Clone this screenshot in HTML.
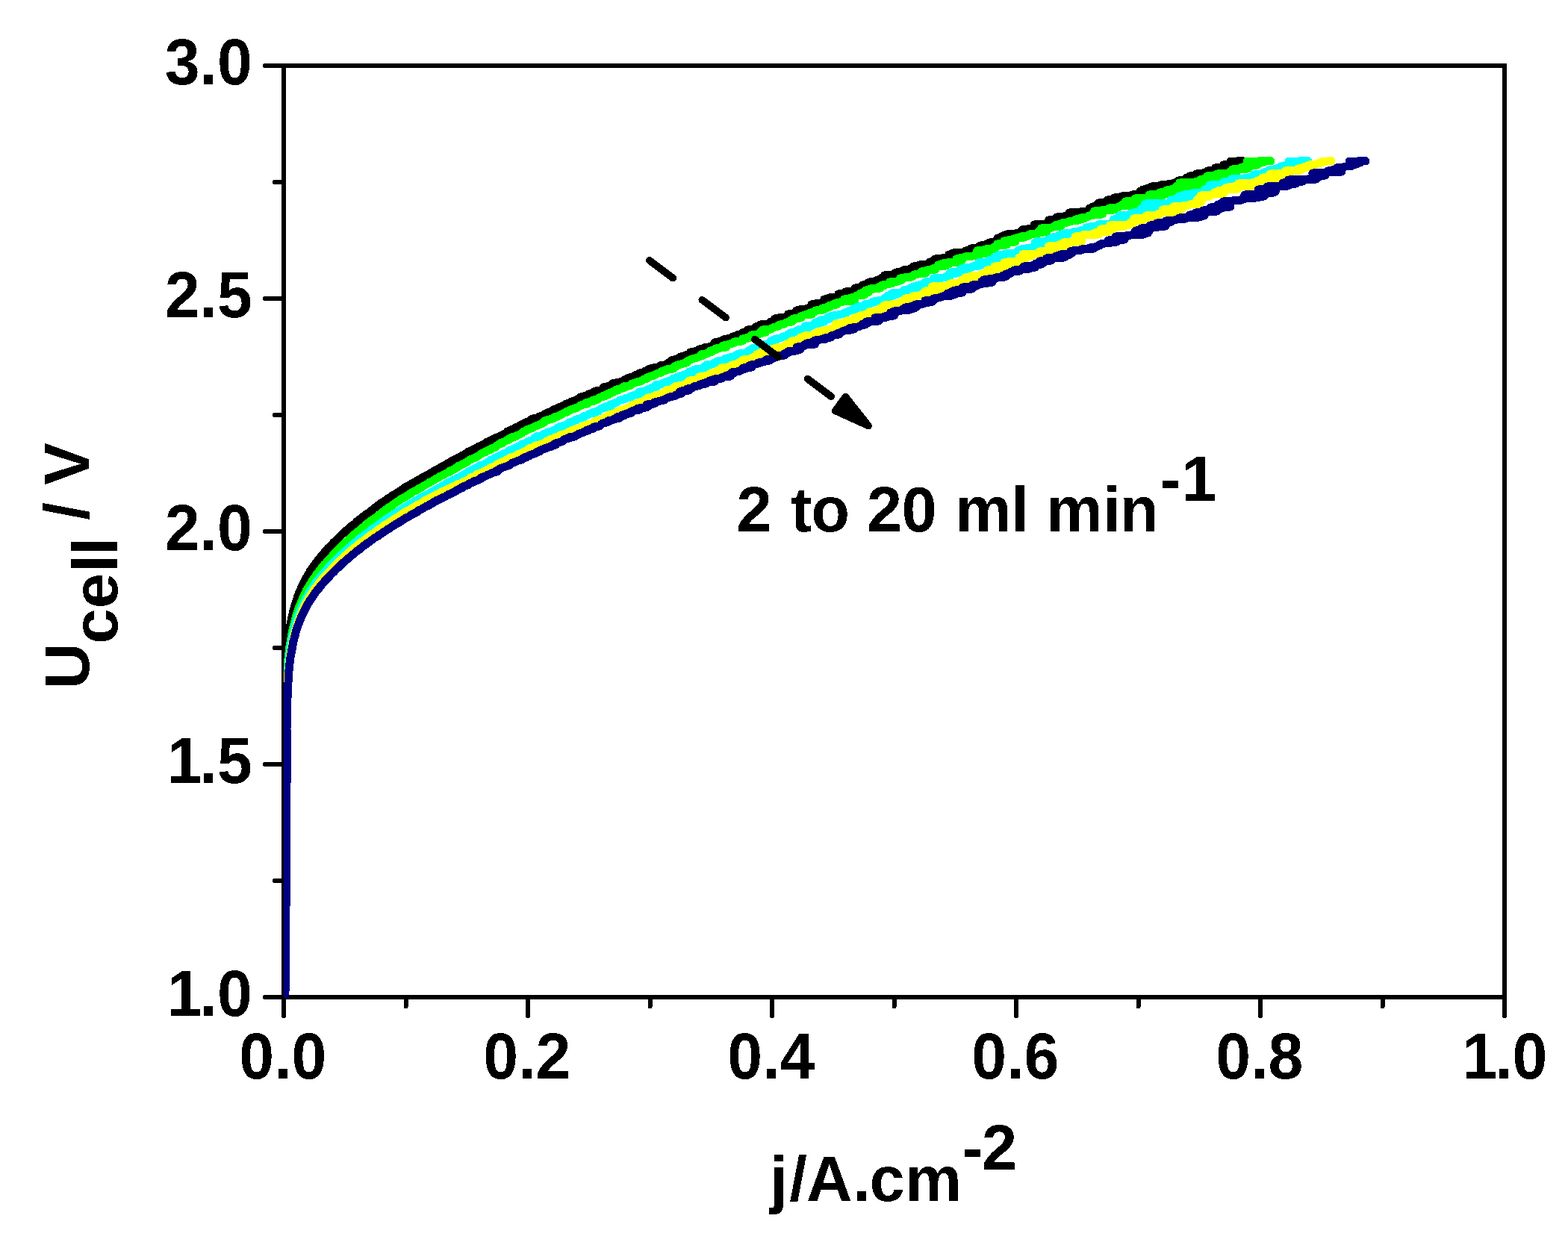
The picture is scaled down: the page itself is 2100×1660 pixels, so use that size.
<!DOCTYPE html>
<html lang="en"><head><meta charset="utf-8"><title>Polarisation curves, 2 to 20 ml min-1</title>
<style>html,body{margin:0;padding:0;background:#fff;}body{width:2100px;height:1660px;overflow:hidden;}svg{display:block;}text{font-family:"Liberation Sans",sans-serif;font-weight:bold;fill:#000;}</style></head><body>
<svg width="2100" height="1660" viewBox="0 0 2100 1660">
<defs>
<filter id="crisp" x="-5%" y="-5%" width="110%" height="110%" color-interpolation-filters="sRGB"><feComponentTransfer><feFuncA type="discrete" tableValues="0 1"/></feComponentTransfer></filter>
<clipPath id="plot"><rect x="380" y="68" width="1655" height="1269"/></clipPath>
</defs>
<rect width="2100" height="1660" fill="#ffffff"/>
<g id="axes" stroke="#000" stroke-width="6" fill="none" shape-rendering="crispEdges">
<rect x="380" y="88" width="1635" height="1248"/>
</g>
<g id="ticks" stroke="#000" stroke-width="6" stroke-linecap="round" fill="none" shape-rendering="crispEdges">
<line x1="355.0" y1="88.0" x2="380.0" y2="88.0"/>
<line x1="367.5" y1="244.0" x2="380.0" y2="244.0"/>
<line x1="355.0" y1="400.0" x2="380.0" y2="400.0"/>
<line x1="367.5" y1="556.0" x2="380.0" y2="556.0"/>
<line x1="355.0" y1="712.0" x2="380.0" y2="712.0"/>
<line x1="367.5" y1="868.0" x2="380.0" y2="868.0"/>
<line x1="355.0" y1="1024.0" x2="380.0" y2="1024.0"/>
<line x1="367.5" y1="1180.0" x2="380.0" y2="1180.0"/>
<line x1="355.0" y1="1336.0" x2="380.0" y2="1336.0"/>
<line x1="380.0" y1="1336.0" x2="380.0" y2="1361.0"/>
<line x1="543.5" y1="1336.0" x2="543.5" y2="1348.5"/>
<line x1="707.0" y1="1336.0" x2="707.0" y2="1361.0"/>
<line x1="870.5" y1="1336.0" x2="870.5" y2="1348.5"/>
<line x1="1034.0" y1="1336.0" x2="1034.0" y2="1361.0"/>
<line x1="1197.5" y1="1336.0" x2="1197.5" y2="1348.5"/>
<line x1="1361.0" y1="1336.0" x2="1361.0" y2="1361.0"/>
<line x1="1524.5" y1="1336.0" x2="1524.5" y2="1348.5"/>
<line x1="1688.0" y1="1336.0" x2="1688.0" y2="1361.0"/>
<line x1="1851.5" y1="1336.0" x2="1851.5" y2="1348.5"/>
<line x1="2015.0" y1="1336.0" x2="2015.0" y2="1361.0"/>
</g>
<g id="curves" clip-path="url(#plot)" fill="none" stroke-width="11.0" stroke-linecap="round" stroke-linejoin="round" shape-rendering="crispEdges">
<path stroke="#000000" d="M380.6 1340.0L380.6 1337.0L380.6 1334.0L380.6 1331.0L380.6 1328.0L380.7 1325.0L380.7 1322.0L380.7 1319.0L380.7 1316.0L380.7 1313.0L380.7 1310.0L380.7 1307.0L380.7 1304.0L380.8 1301.0L380.8 1298.0L380.8 1295.0L380.8 1292.0L380.8 1289.0L380.8 1286.0L380.8 1283.0L380.9 1280.0L380.9 1277.0L380.9 1274.0L380.9 1271.0L380.9 1268.0L380.9 1265.0L380.9 1262.0L381.0 1259.0L381.0 1256.0L381.0 1253.0L381.0 1250.0L381.0 1247.0L381.0 1244.0L381.0 1241.0L381.1 1238.0L381.1 1235.0L381.1 1232.0L381.1 1229.0L381.1 1226.0L381.1 1223.0L381.1 1220.0L381.2 1217.0L381.2 1214.0L381.2 1211.0L381.2 1208.0L381.2 1205.0L381.2 1202.0L381.2 1199.0L381.3 1196.0L381.3 1193.0L381.3 1190.0L381.3 1187.0L381.3 1184.0L381.3 1181.0L381.3 1178.0L381.3 1175.0L381.4 1172.0L381.4 1169.0L381.4 1166.0L381.4 1163.0L381.4 1160.0L381.4 1157.0L381.4 1154.0L381.4 1151.0L381.4 1148.0L381.5 1145.0L381.5 1142.0L381.5 1139.0L381.5 1136.0L381.5 1133.0L381.5 1130.0L381.5 1127.0L381.5 1124.0L381.5 1121.0L381.5 1118.0L381.6 1115.0L381.6 1112.0L381.6 1109.0L381.6 1106.0L381.6 1103.0L381.6 1100.0L381.6 1097.0L381.6 1094.0L381.6 1091.0L381.6 1088.0L381.6 1085.0L381.7 1082.0L381.7 1079.0L381.7 1076.0L381.7 1073.0L381.7 1070.0L381.7 1067.0L381.7 1064.0L381.7 1061.0L381.7 1058.0L381.7 1055.0L381.7 1052.0L381.7 1049.0L381.8 1046.0L381.8 1043.0L381.8 1040.0L381.8 1037.0L381.8 1034.0L381.8 1031.0L381.8 1028.0L381.8 1025.0L381.8 1022.0L381.8 1019.0L381.8 1016.0L381.8 1013.0L381.9 1010.0L381.9 1007.0L381.9 1004.0L381.9 1001.0L381.8 998.0L382.0 995.0L381.6 992.0L382.0 989.0L382.0 986.0L382.1 983.0L381.7 980.0L381.9 977.0L382.1 974.0L381.8 971.0L381.9 968.0L381.8 965.0L382.0 962.0L382.0 959.0L382.0 956.0L382.1 953.0L381.9 950.0L381.7 947.0L381.7 944.0L381.6 941.0L381.8 938.0L381.8 935.0L381.8 932.0L382.0 929.0L382.2 926.0L381.9 923.0L382.4 920.0L382.3 917.0L382.4 914.0L382.6 911.0L382.5 908.0L382.9 905.0L382.7 902.0L382.9 899.0L383.2 896.0L383.3 893.0L383.4 890.0L383.9 887.0L383.6 884.0L384.1 881.0L384.2 878.0L384.6 875.0L384.6 872.0L384.6 869.0L385.2 866.0L385.3 863.0L386.0 860.0L386.1 857.0L386.4 854.0L386.9 851.0L387.3 848.0L387.6 845.0L388.4 842.0L388.6 839.0L389.1 836.0L389.8 833.0L390.1 830.0L390.9 827.0L391.8 824.0L392.2 821.0L393.1 818.0L394.1 815.0L394.7 812.0L395.6 809.0L396.6 806.0L397.7 803.0L398.3 800.0L399.9 797.0L400.7 794.0L401.2 793.0L401.6 792.0L402.1 791.0L402.5 790.0L403.2 789.0L403.1 788.0L404.0 787.0L404.4 786.0L404.7 785.0L404.9 784.0L405.7 783.0L406.2 782.0L406.7 781.0L407.3 780.0L407.9 779.0L408.3 778.0L408.6 777.0L409.5 776.0L409.7 775.0L410.5 774.0L411.1 773.0L411.5 772.0L412.2 771.0L412.5 770.0L413.1 769.0L414.0 768.0L414.6 767.0L415.0 766.0L415.2 765.0L416.4 764.0L417.0 763.0L417.7 762.0L418.5 761.0L419.3 760.0L419.8 759.0L420.2 758.0L421.3 757.0L421.9 756.0L422.7 755.0L423.3 754.0L424.3 753.0L424.9 752.0L425.6 751.0L426.5 750.0L427.4 749.0L428.1 748.0L429.2 747.0L430.0 746.0L430.4 745.0L431.0 744.0L432.7 743.0L433.4 742.0L433.9 741.0L434.6 740.0L435.7 739.0L436.6 738.0L437.5 737.0L438.2 736.0L439.4 735.0L439.6 734.0L441.4 733.0L442.2 732.0L443.4 731.0L444.3 730.0L444.8 729.0L445.9 728.0L446.7 727.0L447.8 726.0L448.9 725.0L450.2 724.0L451.0 723.0L452.3 722.0L453.2 721.0L454.3 720.0L455.2 719.0L455.8 718.0L457.0 717.0L458.0 716.0L459.1 715.0L460.4 714.0L461.8 713.0L462.7 712.0L463.8 711.0L464.7 710.0L466.2 709.0L467.4 708.0L468.7 707.0L469.8 706.0L470.3 705.0L471.8 704.0L473.4 703.0L474.9 702.0L476.1 701.0L476.9 700.0L477.5 699.0L479.2 698.0L481.1 697.0L481.3 696.0L482.9 695.0L484.3 694.0L485.8 693.0L486.5 692.0L488.0 691.0L489.8 690.0L490.7 689.0L491.8 688.0L494.0 687.0L495.0 686.0L496.6 685.0L497.4 684.0L498.9 683.0L500.0 682.0L501.1 681.0L502.3 680.0L504.6 679.0L505.4 678.0L506.3 677.0L508.6 676.0L510.1 675.0L510.5 674.0L512.6 673.0L514.5 672.0L515.4 671.0L517.0 670.0L518.2 669.0L520.1 668.0L520.6 667.0L523.2 666.0L524.3 665.0L525.6 664.0L527.1 663.0L529.4 662.0L530.9 661.0L532.4 660.0L533.9 659.0L535.3 658.0L537.1 657.0L538.3 656.0L539.9 655.0L541.9 654.0L542.6 653.0L544.0 652.0L546.0 651.0L547.9 650.0L550.1 649.0L552.7 648.0L552.8 647.0L555.9 646.0L557.3 645.0L558.2 644.0L560.1 643.0L562.9 642.0L563.7 641.0L565.1 640.0L567.2 639.0L569.4 638.0L571.0 637.0L573.9 636.0L574.9 635.0L575.9 634.0L578.4 633.0L580.7 632.0L581.4 631.0L583.9 630.0L585.5 629.0L587.8 628.0L589.5 627.0L590.0 626.0L593.2 625.0L594.6 624.0L596.6 623.0L599.0 622.0L599.3 621.0L602.5 620.0L602.8 619.0L604.8 618.0L606.2 617.0L608.4 616.0L610.3 615.0L612.1 614.0L615.6 613.0L616.4 612.0L618.8 611.0L619.2 610.0L623.3 609.0L623.1 608.0L625.4 607.0L627.8 606.0L627.7 605.0L630.7 604.0L632.9 603.0L634.3 602.0L637.1 601.0L638.9 600.0L639.7 599.0L641.6 598.0L645.5 597.0L646.0 596.0L648.3 595.0L651.6 594.0L652.9 593.0L652.4 592.0L656.2 591.0L656.9 590.0L659.1 589.0L662.2 588.0L663.2 587.0L666.6 586.0L668.5 585.0L671.1 584.0L672.2 583.0L674.6 582.0L675.9 581.0L678.0 580.0L678.9 579.0L679.5 578.0L682.3 577.0L684.6 576.0L686.6 575.0L689.3 574.0L690.0 573.0L692.0 572.0L697.8 571.0L696.5 570.0L698.1 569.0L701.1 568.0L703.6 567.0L703.8 566.0L708.7 565.0L709.8 564.0L711.5 563.0L711.3 562.0L713.4 561.0L719.2 560.0L721.4 559.0L722.4 558.0L726.3 557.0L728.9 556.0L729.7 555.0L730.7 554.0L733.6 553.0L735.9 552.0L738.0 551.0L741.9 550.0L740.9 549.0L746.8 548.0L746.1 547.0L747.7 546.0L751.6 545.0L754.0 544.0L756.2 543.0L756.7 542.0L758.5 541.0L761.3 540.0L766.2 539.0L765.3 538.0L771.2 537.0L770.8 536.0L775.1 535.0L774.7 534.0L778.9 533.0L777.6 532.0L781.3 531.0L786.8 530.0L787.1 529.0L788.4 528.0L793.9 527.0L795.5 526.0L795.4 525.0L797.5 524.0L804.5 523.0L805.8 522.0L807.3 521.0L808.3 520.0L808.0 519.0L813.2 518.0L817.2 517.0L821.0 516.0L820.6 515.0L820.0 514.0L824.9 513.0L830.0 512.0L834.3 511.0L835.8 510.0L836.1 509.0L838.6 508.0L840.5 507.0L842.9 506.0L849.3 505.0L851.9 504.0L850.3 503.0L852.8 502.0L859.4 501.0L856.1 500.0L864.5 499.0L863.3 498.0L864.5 497.0L871.9 496.0L868.0 495.0L870.4 494.0L874.7 493.0L881.6 492.0L882.8 491.0L884.0 490.0L890.2 489.0L892.8 488.0L893.9 487.0L895.3 486.0L899.1 485.0L898.0 484.0L899.2 483.0L902.1 482.0L907.4 481.0L908.5 480.0L915.7 479.0L911.2 478.0L919.0 477.0L918.5 476.0L920.9 475.0L926.2 474.0L925.4 473.0L924.4 472.0L929.6 471.0L932.2 470.0L936.3 469.0L935.9 468.0L943.5 467.0L942.6 466.0L949.3 465.0L951.9 464.0L956.8 463.0L956.3 462.0L957.8 461.0L958.7 460.0L956.9 459.0L961.5 458.0L964.8 457.0L971.2 456.0L968.9 455.0L974.2 454.0L978.0 453.0L981.8 452.0L981.4 451.0L987.7 450.0L987.0 449.0L993.0 448.0L995.5 447.0L994.3 446.0L997.8 445.0L1004.9 444.0L1005.6 443.0L1001.4 442.0L1007.1 441.0L1012.3 440.0L1017.8 439.0L1012.0 438.0L1016.1 437.0L1018.1 436.0L1018.0 435.0L1027.2 434.0L1033.2 433.0L1032.5 432.0L1032.6 431.0L1035.3 430.0L1040.0 429.0L1043.6 428.0L1037.8 427.0L1042.8 426.0L1050.9 425.0L1054.0 424.0L1056.1 423.0L1058.0 422.0L1055.5 421.0L1068.0 420.0L1067.5 419.0L1070.9 418.0L1070.7 417.0L1066.5 416.0L1070.0 415.0L1083.3 414.0L1081.4 413.0L1088.1 412.0L1086.3 411.0L1088.6 410.0L1097.4 409.0L1086.8 408.0L1091.5 407.0L1101.1 406.0L1104.4 405.0L1109.1 404.0L1103.5 403.0L1115.7 402.0L1103.9 401.0L1120.6 400.0L1109.9 399.0L1120.1 398.0L1128.6 397.0L1127.1 396.0L1128.9 395.0L1122.8 394.0L1130.8 393.0L1136.7 392.0L1132.3 391.0L1146.1 390.0L1143.6 389.0L1148.3 388.0L1148.8 387.0L1145.1 386.0L1155.9 385.0L1154.6 384.0L1160.3 383.0L1155.2 382.0L1161.0 381.0L1161.4 380.0L1161.8 379.0L1164.4 378.0L1172.8 377.0L1173.3 376.0L1175.4 375.0L1186.9 374.0L1180.7 373.0L1181.1 372.0L1191.1 371.0L1196.8 370.0L1184.7 369.0L1198.9 368.0L1203.7 367.0L1198.1 366.0L1200.3 365.0L1210.6 364.0L1220.3 363.0L1209.8 362.0L1216.4 361.0L1221.0 360.0L1220.9 359.0L1226.7 358.0L1223.1 357.0L1230.8 356.0L1231.4 355.0L1242.3 354.0L1246.5 353.0L1252.1 352.0L1245.4 351.0L1248.6 350.0L1257.4 349.0L1259.4 348.0L1252.0 347.0L1261.2 346.0L1269.9 345.0L1272.1 344.0L1271.9 343.0L1273.1 342.0L1270.8 341.0L1290.9 340.0L1276.6 339.0L1293.3 338.0L1298.8 337.0L1293.4 336.0L1301.1 335.0L1313.0 334.0L1300.1 333.0L1315.2 332.0L1325.5 331.0L1311.0 330.0L1313.6 329.0L1318.2 328.0L1330.2 327.0L1323.4 326.0L1325.7 325.0L1329.9 324.0L1342.0 323.0L1338.3 322.0L1346.3 321.0L1341.7 320.0L1336.0 319.0L1348.2 318.0L1348.1 317.0L1342.8 316.0L1351.9 315.0L1348.4 314.0L1359.2 313.0L1366.3 312.0L1365.9 311.0L1376.7 310.0L1377.5 309.0L1368.9 308.0L1375.6 307.0L1384.2 306.0L1393.1 305.0L1389.9 304.0L1391.7 303.0L1405.5 302.0L1385.3 301.0L1404.2 300.0L1408.7 299.0L1410.5 298.0L1411.3 297.0L1421.2 296.0L1404.7 295.0L1417.2 294.0L1426.7 293.0L1426.3 292.0L1415.4 291.0L1433.3 290.0L1427.1 289.0L1436.2 288.0L1444.3 287.0L1444.1 286.0L1432.3 285.0L1446.8 284.0L1462.6 283.0L1463.0 282.0L1460.5 281.0L1465.5 280.0L1459.1 279.0L1476.6 278.0L1463.2 277.0L1474.1 276.0L1468.2 275.0L1478.6 274.0L1480.0 273.0L1471.1 272.0L1488.2 271.0L1483.7 270.0L1495.2 269.0L1483.1 268.0L1488.0 267.0L1505.2 266.0L1492.6 265.0L1511.6 264.0L1502.5 263.0L1530.7 262.0L1516.7 261.0L1537.1 260.0L1534.7 259.0L1531.1 258.0L1538.7 257.0L1527.2 256.0L1534.0 255.0L1530.8 254.0L1543.8 253.0L1537.7 252.0L1558.1 251.0L1542.1 250.0L1570.6 249.0L1554.4 248.0L1563.2 247.0L1570.3 246.0L1572.9 245.0L1578.1 244.0L1590.9 243.0L1578.6 242.0L1591.6 241.0L1596.1 240.0L1597.2 239.0L1589.3 238.0L1602.6 237.0L1593.5 236.0L1606.4 235.0L1622.9 234.0L1602.2 233.0L1610.7 232.0L1618.2 231.0L1622.3 230.0L1617.1 229.0L1632.1 228.0L1630.3 227.0L1632.6 226.0L1627.5 225.0L1636.1 224.0L1639.7 223.0L1641.0 222.0L1638.5 221.0L1648.9 220.0L1650.2 219.0L1654.7 218.0L1657.4 217.0L1648.0 216.3L1664.0 215.7"/>
<path stroke="#00ff00" d="M380.8 1340.0L380.8 1337.0L380.8 1334.0L380.8 1331.0L380.8 1328.0L380.9 1325.0L380.9 1322.0L380.9 1319.0L380.9 1316.0L380.9 1313.0L381.0 1310.0L381.0 1307.0L381.0 1304.0L381.0 1301.0L381.0 1298.0L381.0 1295.0L381.1 1292.0L381.1 1289.0L381.1 1286.0L381.1 1283.0L381.1 1280.0L381.1 1277.0L381.2 1274.0L381.2 1271.0L381.2 1268.0L381.2 1265.0L381.2 1262.0L381.2 1259.0L381.3 1256.0L381.3 1253.0L381.3 1250.0L381.3 1247.0L381.3 1244.0L381.4 1241.0L381.4 1238.0L381.4 1235.0L381.4 1232.0L381.4 1229.0L381.4 1226.0L381.5 1223.0L381.5 1220.0L381.5 1217.0L381.5 1214.0L381.5 1211.0L381.5 1208.0L381.6 1205.0L381.6 1202.0L381.6 1199.0L381.6 1196.0L381.6 1193.0L381.6 1190.0L381.7 1187.0L381.7 1184.0L381.7 1181.0L381.7 1178.0L381.7 1175.0L381.8 1172.0L381.8 1169.0L381.8 1166.0L381.8 1163.0L381.8 1160.0L381.8 1157.0L381.8 1154.0L381.8 1151.0L381.9 1148.0L381.9 1145.0L381.9 1142.0L381.9 1139.0L381.9 1136.0L381.9 1133.0L381.9 1130.0L381.9 1127.0L381.9 1124.0L381.9 1121.0L381.9 1118.0L382.0 1115.0L382.0 1112.0L382.0 1109.0L382.0 1106.0L382.0 1103.0L382.0 1100.0L382.0 1097.0L382.0 1094.0L382.0 1091.0L382.1 1088.0L382.1 1085.0L382.1 1082.0L382.1 1079.0L382.1 1076.0L382.1 1073.0L382.1 1070.0L382.1 1067.0L382.2 1064.0L382.2 1061.0L382.2 1058.0L382.2 1055.0L382.2 1052.0L382.2 1049.0L382.2 1046.0L382.2 1043.0L382.3 1040.0L382.3 1037.0L382.3 1034.0L382.3 1031.0L382.3 1028.0L382.3 1025.0L382.3 1022.0L382.3 1019.0L382.4 1016.0L382.4 1013.0L382.4 1010.0L382.4 1007.0L382.4 1004.0L382.4 1001.0L382.4 998.0L382.5 995.0L382.7 992.0L382.6 989.0L382.3 986.0L382.3 983.0L382.4 980.0L382.4 977.0L382.7 974.0L382.6 971.0L382.8 968.0L382.5 965.0L382.6 962.0L382.8 959.0L382.8 956.0L382.7 953.0L382.5 950.0L382.5 947.0L382.5 944.0L382.5 941.0L382.6 938.0L382.7 935.0L382.9 932.0L382.8 929.0L383.3 926.0L383.0 923.0L383.3 920.0L383.3 917.0L383.5 914.0L383.9 911.0L384.0 908.0L384.2 905.0L384.6 902.0L384.6 899.0L384.9 896.0L385.1 893.0L385.2 890.0L385.7 887.0L385.9 884.0L386.1 881.0L386.5 878.0L387.0 875.0L387.1 872.0L387.7 869.0L387.9 866.0L388.6 863.0L389.0 860.0L389.4 857.0L390.1 854.0L390.5 851.0L391.3 848.0L391.8 845.0L392.4 842.0L393.1 839.0L393.9 836.0L394.7 833.0L395.3 830.0L396.2 827.0L397.1 824.0L398.1 821.0L399.0 818.0L400.0 815.0L400.3 814.0L400.8 813.0L401.0 812.0L401.6 811.0L402.2 810.0L402.5 809.0L402.9 808.0L403.3 807.0L403.5 806.0L404.1 805.0L404.6 804.0L404.8 803.0L405.6 802.0L405.7 801.0L406.1 800.0L406.7 799.0L407.5 798.0L407.6 797.0L408.4 796.0L408.8 795.0L409.3 794.0L410.0 793.0L410.5 792.0L410.4 791.0L411.6 790.0L412.3 789.0L412.3 788.0L413.2 787.0L413.6 786.0L414.2 785.0L414.8 784.0L415.2 783.0L416.3 782.0L416.9 781.0L417.2 780.0L417.6 779.0L418.3 778.0L419.4 777.0L419.7 776.0L420.5 775.0L421.3 774.0L421.9 773.0L422.6 772.0L423.4 771.0L423.7 770.0L424.7 769.0L425.3 768.0L426.4 767.0L427.1 766.0L427.5 765.0L428.3 764.0L429.5 763.0L430.2 762.0L430.8 761.0L431.1 760.0L432.4 759.0L433.0 758.0L434.0 757.0L434.7 756.0L436.1 755.0L436.8 754.0L437.7 753.0L438.6 752.0L439.0 751.0L440.2 750.0L440.8 749.0L442.3 748.0L443.2 747.0L443.8 746.0L445.2 745.0L445.5 744.0L446.4 743.0L447.5 742.0L448.7 741.0L449.6 740.0L450.3 739.0L451.5 738.0L452.3 737.0L453.4 736.0L454.0 735.0L455.7 734.0L456.5 733.0L457.4 732.0L458.1 731.0L459.0 730.0L460.4 729.0L462.0 728.0L462.4 727.0L463.7 726.0L465.0 725.0L466.0 724.0L467.4 723.0L468.5 722.0L469.2 721.0L470.2 720.0L471.3 719.0L472.7 718.0L473.3 717.0L474.6 716.0L476.1 715.0L477.2 714.0L478.6 713.0L479.4 712.0L481.3 711.0L482.2 710.0L483.0 709.0L483.9 708.0L485.6 707.0L487.0 706.0L488.5 705.0L489.9 704.0L491.0 703.0L491.6 702.0L492.6 701.0L494.1 700.0L495.8 699.0L496.4 698.0L498.3 697.0L499.3 696.0L501.1 695.0L502.3 694.0L503.9 693.0L505.1 692.0L506.3 691.0L508.2 690.0L508.9 689.0L510.0 688.0L511.0 687.0L512.3 686.0L514.0 685.0L515.3 684.0L516.3 683.0L517.9 682.0L520.0 681.0L520.5 680.0L522.5 679.0L524.0 678.0L526.1 677.0L526.1 676.0L528.5 675.0L528.8 674.0L531.1 673.0L532.6 672.0L535.0 671.0L535.7 670.0L536.5 669.0L538.7 668.0L540.6 667.0L542.5 666.0L543.8 665.0L545.6 664.0L547.3 663.0L548.2 662.0L550.9 661.0L551.5 660.0L552.8 659.0L555.5 658.0L558.2 657.0L558.7 656.0L560.7 655.0L562.1 654.0L564.8 653.0L565.9 652.0L567.3 651.0L568.9 650.0L571.1 649.0L572.9 648.0L574.8 647.0L575.7 646.0L578.0 645.0L580.2 644.0L581.6 643.0L582.9 642.0L584.7 641.0L587.2 640.0L589.1 639.0L589.4 638.0L592.6 637.0L594.4 636.0L596.2 635.0L597.8 634.0L600.5 633.0L602.5 632.0L602.5 631.0L605.0 630.0L608.1 629.0L609.8 628.0L610.0 627.0L612.6 626.0L613.9 625.0L614.4 624.0L618.2 623.0L619.7 622.0L620.9 621.0L624.4 620.0L625.5 619.0L626.2 618.0L628.3 617.0L629.5 616.0L631.7 615.0L634.4 614.0L636.4 613.0L638.6 612.0L640.2 611.0L641.9 610.0L642.9 609.0L645.2 608.0L645.6 607.0L649.7 606.0L649.7 605.0L652.2 604.0L654.8 603.0L658.0 602.0L657.6 601.0L660.9 600.0L664.1 599.0L663.7 598.0L665.3 597.0L667.4 596.0L667.7 595.0L672.8 594.0L671.6 593.0L675.2 592.0L676.8 591.0L678.5 590.0L681.9 589.0L681.1 588.0L685.2 587.0L685.0 586.0L691.0 585.0L691.3 584.0L694.3 583.0L695.9 582.0L698.5 581.0L698.7 580.0L700.1 579.0L701.6 578.0L704.9 577.0L705.2 576.0L708.1 575.0L711.5 574.0L713.4 573.0L715.0 572.0L717.4 571.0L720.0 570.0L721.8 569.0L725.2 568.0L726.0 567.0L728.5 566.0L729.7 565.0L728.7 564.0L732.2 563.0L736.1 562.0L740.1 561.0L742.4 560.0L741.8 559.0L747.2 558.0L747.6 557.0L750.9 556.0L752.7 555.0L753.9 554.0L756.0 553.0L760.3 552.0L759.5 551.0L762.4 550.0L765.3 549.0L766.6 548.0L771.9 547.0L772.6 546.0L775.2 545.0L776.7 544.0L777.2 543.0L781.5 542.0L786.8 541.0L783.8 540.0L788.4 539.0L790.8 538.0L796.1 537.0L794.1 536.0L801.3 535.0L801.8 534.0L802.4 533.0L804.3 532.0L809.4 531.0L808.0 530.0L814.7 529.0L813.2 528.0L814.9 527.0L821.0 526.0L820.0 525.0L822.8 524.0L827.5 523.0L825.4 522.0L830.1 521.0L834.1 520.0L837.0 519.0L834.8 518.0L842.5 517.0L844.8 516.0L846.3 515.0L846.2 514.0L850.5 513.0L852.1 512.0L857.7 511.0L859.5 510.0L860.8 509.0L862.3 508.0L867.0 507.0L866.2 506.0L870.2 505.0L871.2 504.0L876.0 503.0L877.7 502.0L879.0 501.0L881.2 500.0L886.1 499.0L885.3 498.0L888.1 497.0L893.1 496.0L892.1 495.0L901.8 494.0L902.9 493.0L902.2 492.0L905.9 491.0L904.7 490.0L908.0 489.0L912.3 488.0L914.3 487.0L919.9 486.0L920.6 485.0L920.1 484.0L923.2 483.0L924.6 482.0L926.9 481.0L930.6 480.0L934.3 479.0L935.8 478.0L938.8 477.0L941.9 476.0L938.8 475.0L947.1 474.0L946.7 473.0L951.4 472.0L953.7 471.0L951.1 470.0L957.3 469.0L960.0 468.0L958.3 467.0L965.5 466.0L973.0 465.0L972.5 464.0L968.4 463.0L974.4 462.0L977.0 461.0L980.9 460.0L983.6 459.0L983.4 458.0L994.3 457.0L995.3 456.0L994.8 455.0L994.6 454.0L1002.8 453.0L1001.5 452.0L1009.7 451.0L1008.4 450.0L1006.3 449.0L1014.0 448.0L1018.9 447.0L1017.1 446.0L1025.6 445.0L1019.3 444.0L1024.4 443.0L1021.5 442.0L1032.7 441.0L1033.4 440.0L1034.7 439.0L1038.7 438.0L1042.7 437.0L1041.8 436.0L1044.7 435.0L1050.7 434.0L1051.3 433.0L1053.3 432.0L1060.8 431.0L1061.7 430.0L1058.9 429.0L1062.3 428.0L1062.7 427.0L1071.8 426.0L1073.5 425.0L1072.4 424.0L1074.8 423.0L1077.0 422.0L1087.6 421.0L1083.2 420.0L1085.7 419.0L1090.9 418.0L1090.8 417.0L1092.3 416.0L1103.3 415.0L1102.4 414.0L1101.3 413.0L1110.2 412.0L1112.1 411.0L1109.5 410.0L1112.0 409.0L1121.1 408.0L1116.8 407.0L1120.1 406.0L1124.5 405.0L1129.0 404.0L1144.8 403.0L1133.9 402.0L1130.5 401.0L1141.4 400.0L1139.2 399.0L1145.7 398.0L1145.6 397.0L1147.4 396.0L1157.8 395.0L1153.2 394.0L1152.4 393.0L1162.9 392.0L1163.6 391.0L1163.4 390.0L1159.0 389.0L1167.9 388.0L1165.1 387.0L1179.0 386.0L1175.9 385.0L1179.1 384.0L1183.4 383.0L1181.4 382.0L1187.1 381.0L1192.4 380.0L1195.8 379.0L1191.7 378.0L1203.1 377.0L1203.4 376.0L1208.1 375.0L1206.8 374.0L1205.6 373.0L1210.3 372.0L1221.3 371.0L1221.2 370.0L1223.8 369.0L1224.2 368.0L1230.9 367.0L1240.1 366.0L1234.8 365.0L1233.8 364.0L1242.1 363.0L1240.8 362.0L1252.9 361.0L1249.3 360.0L1251.4 359.0L1254.7 358.0L1256.1 357.0L1267.1 356.0L1256.6 355.0L1270.8 354.0L1262.2 353.0L1268.1 352.0L1282.8 351.0L1284.4 350.0L1287.2 349.0L1289.0 348.0L1280.8 347.0L1284.2 346.0L1290.9 345.0L1292.6 344.0L1302.3 343.0L1311.6 342.0L1310.6 341.0L1315.6 340.0L1325.0 339.0L1311.0 338.0L1310.4 337.0L1308.6 336.0L1317.0 335.0L1319.3 334.0L1332.6 333.0L1329.9 332.0L1331.2 331.0L1335.6 330.0L1337.6 329.0L1348.3 328.0L1335.6 327.0L1346.9 326.0L1349.9 325.0L1359.8 324.0L1344.6 323.0L1349.3 322.0L1355.2 321.0L1357.8 320.0L1360.0 319.0L1371.6 318.0L1367.2 317.0L1377.5 316.0L1379.5 315.0L1378.6 314.0L1386.5 313.0L1393.0 312.0L1397.9 311.0L1401.9 310.0L1392.2 309.0L1400.2 308.0L1398.4 307.0L1394.7 306.0L1409.1 305.0L1410.0 304.0L1420.9 303.0L1413.3 302.0L1416.9 301.0L1423.4 300.0L1421.8 299.0L1429.8 298.0L1430.7 297.0L1436.6 296.0L1445.1 295.0L1439.9 294.0L1452.2 293.0L1447.0 292.0L1454.5 291.0L1457.9 290.0L1458.4 289.0L1465.2 288.0L1476.3 287.0L1474.3 286.0L1468.9 285.0L1475.6 284.0L1465.6 283.0L1474.6 282.0L1492.3 281.0L1493.5 280.0L1485.3 279.0L1497.5 278.0L1498.3 277.0L1500.5 276.0L1522.8 275.0L1503.7 274.0L1517.4 273.0L1513.7 272.0L1523.5 271.0L1507.4 270.0L1526.2 269.0L1524.0 268.0L1525.4 267.0L1520.3 266.0L1538.2 265.0L1555.4 264.0L1546.3 263.0L1550.7 262.0L1539.5 261.0L1561.9 260.0L1564.0 259.0L1553.3 258.0L1571.4 257.0L1568.1 256.0L1562.7 255.0L1568.9 254.0L1570.5 253.0L1594.8 252.0L1583.8 251.0L1588.8 250.0L1576.1 249.0L1605.6 248.0L1614.1 247.0L1601.4 246.0L1579.8 245.0L1599.5 244.0L1610.6 243.0L1617.2 242.0L1607.1 241.0L1610.3 240.0L1626.4 239.0L1636.2 238.0L1636.1 237.0L1616.6 236.0L1641.6 235.0L1643.4 234.0L1629.9 233.0L1644.9 232.0L1655.9 231.0L1647.3 230.0L1648.7 229.0L1653.9 228.0L1650.4 227.0L1671.4 226.0L1661.5 225.0L1663.3 224.0L1671.8 223.0L1677.8 222.0L1684.1 221.0L1682.5 220.0L1686.0 219.0L1689.7 218.0L1692.7 217.0L1670.0 216.3L1702.0 215.7"/>
<path stroke="#00ffff" d="M381.0 1340.0L381.0 1337.0L381.0 1334.0L381.0 1331.0L381.0 1328.0L381.1 1325.0L381.1 1322.0L381.1 1319.0L381.1 1316.0L381.1 1313.0L381.2 1310.0L381.2 1307.0L381.2 1304.0L381.2 1301.0L381.2 1298.0L381.2 1295.0L381.3 1292.0L381.3 1289.0L381.3 1286.0L381.3 1283.0L381.3 1280.0L381.3 1277.0L381.4 1274.0L381.4 1271.0L381.4 1268.0L381.4 1265.0L381.4 1262.0L381.4 1259.0L381.5 1256.0L381.5 1253.0L381.5 1250.0L381.5 1247.0L381.5 1244.0L381.6 1241.0L381.6 1238.0L381.6 1235.0L381.6 1232.0L381.6 1229.0L381.7 1226.0L381.7 1223.0L381.7 1220.0L381.7 1217.0L381.8 1214.0L381.8 1211.0L381.8 1208.0L381.8 1205.0L381.8 1202.0L381.9 1199.0L381.9 1196.0L381.9 1193.0L381.9 1190.0L381.9 1187.0L382.0 1184.0L382.0 1181.0L382.0 1178.0L382.0 1175.0L382.0 1172.0L382.1 1169.0L382.1 1166.0L382.1 1163.0L382.1 1160.0L382.1 1157.0L382.1 1154.0L382.2 1151.0L382.2 1148.0L382.2 1145.0L382.2 1142.0L382.2 1139.0L382.2 1136.0L382.2 1133.0L382.3 1130.0L382.3 1127.0L382.3 1124.0L382.3 1121.0L382.3 1118.0L382.3 1115.0L382.3 1112.0L382.4 1109.0L382.4 1106.0L382.4 1103.0L382.4 1100.0L382.4 1097.0L382.4 1094.0L382.4 1091.0L382.5 1088.0L382.5 1085.0L382.5 1082.0L382.5 1079.0L382.5 1076.0L382.5 1073.0L382.5 1070.0L382.5 1067.0L382.6 1064.0L382.6 1061.0L382.6 1058.0L382.6 1055.0L382.6 1052.0L382.6 1049.0L382.6 1046.0L382.6 1043.0L382.7 1040.0L382.7 1037.0L382.7 1034.0L382.7 1031.0L382.7 1028.0L382.7 1025.0L382.7 1022.0L382.7 1019.0L382.8 1016.0L382.8 1013.0L382.8 1010.0L382.8 1007.0L382.8 1004.0L382.8 1001.0L383.0 998.0L382.6 995.0L382.9 992.0L382.8 989.0L382.8 986.0L382.7 983.0L382.6 980.0L382.7 977.0L382.8 974.0L382.9 971.0L382.8 968.0L383.0 965.0L383.1 962.0L382.8 959.0L383.1 956.0L383.1 953.0L382.9 950.0L383.1 947.0L383.2 944.0L383.3 941.0L383.4 938.0L383.5 935.0L383.3 932.0L383.5 929.0L383.9 926.0L383.8 923.0L383.9 920.0L384.0 917.0L384.5 914.0L384.5 911.0L384.9 908.0L384.9 905.0L385.0 902.0L385.3 899.0L385.2 896.0L386.2 893.0L386.2 890.0L386.7 887.0L386.8 884.0L387.4 881.0L387.5 878.0L388.0 875.0L388.3 872.0L388.8 869.0L389.4 866.0L389.6 863.0L390.1 860.0L390.6 857.0L391.4 854.0L392.1 851.0L392.8 848.0L393.8 845.0L394.2 842.0L394.9 839.0L395.7 836.0L396.8 833.0L397.7 830.0L398.8 827.0L399.6 824.0L401.2 821.0L401.5 820.0L401.6 819.0L402.1 818.0L402.7 817.0L403.2 816.0L403.5 815.0L403.8 814.0L404.3 813.0L404.8 812.0L405.3 811.0L405.8 810.0L406.2 809.0L406.8 808.0L407.2 807.0L407.7 806.0L408.5 805.0L409.0 804.0L409.3 803.0L409.6 802.0L410.4 801.0L410.9 800.0L411.6 799.0L412.3 798.0L412.6 797.0L413.2 796.0L413.9 795.0L414.2 794.0L414.9 793.0L415.7 792.0L416.2 791.0L417.1 790.0L417.6 789.0L418.0 788.0L419.1 787.0L419.5 786.0L420.2 785.0L420.8 784.0L421.6 783.0L422.8 782.0L423.2 781.0L423.2 780.0L424.7 779.0L425.5 778.0L426.1 777.0L427.1 776.0L427.7 775.0L428.4 774.0L429.1 773.0L430.1 772.0L430.9 771.0L431.9 770.0L432.5 769.0L433.5 768.0L434.2 767.0L435.0 766.0L436.3 765.0L437.2 764.0L437.9 763.0L438.7 762.0L439.9 761.0L440.7 760.0L441.4 759.0L442.6 758.0L443.6 757.0L444.7 756.0L445.5 755.0L446.7 754.0L447.5 753.0L448.9 752.0L449.4 751.0L450.8 750.0L451.4 749.0L452.8 748.0L453.8 747.0L454.8 746.0L455.2 745.0L456.3 744.0L457.9 743.0L458.5 742.0L459.8 741.0L460.9 740.0L461.7 739.0L463.4 738.0L464.2 737.0L465.4 736.0L466.3 735.0L467.7 734.0L468.7 733.0L470.2 732.0L470.7 731.0L471.7 730.0L473.9 729.0L474.9 728.0L475.6 727.0L477.3 726.0L478.0 725.0L479.7 724.0L480.5 723.0L481.5 722.0L483.1 721.0L484.2 720.0L486.2 719.0L486.9 718.0L488.5 717.0L489.1 716.0L491.1 715.0L492.3 714.0L493.8 713.0L495.1 712.0L496.5 711.0L497.6 710.0L498.4 709.0L500.9 708.0L501.4 707.0L503.4 706.0L504.6 705.0L505.8 704.0L507.3 703.0L508.2 702.0L510.0 701.0L510.8 700.0L512.7 699.0L514.3 698.0L515.4 697.0L516.5 696.0L518.1 695.0L520.3 694.0L521.3 693.0L523.4 692.0L523.8 691.0L526.2 690.0L527.9 689.0L529.3 688.0L529.8 687.0L532.1 686.0L533.7 685.0L535.2 684.0L537.4 683.0L538.4 682.0L540.2 681.0L541.8 680.0L544.4 679.0L544.7 678.0L547.3 677.0L548.0 676.0L549.9 675.0L551.6 674.0L554.0 673.0L556.3 672.0L556.3 671.0L558.5 670.0L560.8 669.0L562.5 668.0L563.6 667.0L564.8 666.0L566.7 665.0L569.9 664.0L571.2 663.0L573.3 662.0L575.0 661.0L575.9 660.0L578.0 659.0L579.8 658.0L582.0 657.0L583.6 656.0L585.1 655.0L587.9 654.0L589.1 653.0L590.8 652.0L592.0 651.0L595.2 650.0L596.8 649.0L597.0 648.0L599.6 647.0L601.9 646.0L603.6 645.0L605.3 644.0L606.9 643.0L610.3 642.0L611.1 641.0L613.9 640.0L616.4 639.0L617.2 638.0L619.3 637.0L621.0 636.0L623.6 635.0L623.9 634.0L626.8 633.0L626.8 632.0L628.9 631.0L631.4 630.0L633.9 629.0L634.9 628.0L637.9 627.0L639.4 626.0L641.8 625.0L641.9 624.0L646.9 623.0L648.7 622.0L650.2 621.0L652.2 620.0L652.9 619.0L655.8 618.0L657.0 617.0L657.2 616.0L661.6 615.0L662.7 614.0L663.5 613.0L668.6 612.0L667.9 611.0L670.0 610.0L673.3 609.0L673.9 608.0L677.3 607.0L679.5 606.0L680.2 605.0L681.1 604.0L684.6 603.0L685.9 602.0L688.7 601.0L689.8 600.0L692.8 599.0L694.2 598.0L696.6 597.0L698.3 596.0L699.0 595.0L702.8 594.0L705.0 593.0L705.8 592.0L708.2 591.0L712.1 590.0L714.2 589.0L714.8 588.0L715.6 587.0L720.5 586.0L717.8 585.0L724.8 584.0L727.8 583.0L727.0 582.0L730.9 581.0L732.0 580.0L733.2 579.0L737.5 578.0L741.4 577.0L742.6 576.0L746.1 575.0L747.7 574.0L746.6 573.0L752.2 572.0L751.2 571.0L756.8 570.0L758.5 569.0L759.8 568.0L762.5 567.0L762.7 566.0L768.0 565.0L768.2 564.0L771.4 563.0L771.3 562.0L775.7 561.0L778.0 560.0L781.8 559.0L781.3 558.0L784.5 557.0L787.3 556.0L788.4 555.0L790.1 554.0L796.6 553.0L795.1 552.0L801.6 551.0L801.5 550.0L802.9 549.0L804.5 548.0L805.7 547.0L810.6 546.0L810.4 545.0L818.4 544.0L816.4 543.0L817.6 542.0L821.9 541.0L822.9 540.0L825.9 539.0L828.2 538.0L829.0 537.0L830.4 536.0L835.4 535.0L837.4 534.0L840.3 533.0L844.8 532.0L844.6 531.0L848.6 530.0L850.5 529.0L856.1 528.0L856.5 527.0L859.5 526.0L856.3 525.0L862.4 524.0L865.9 523.0L867.0 522.0L871.1 521.0L872.4 520.0L873.1 519.0L879.8 518.0L879.9 517.0L878.0 516.0L883.3 515.0L890.2 514.0L888.6 513.0L893.8 512.0L893.5 511.0L897.5 510.0L900.5 509.0L899.7 508.0L905.1 507.0L904.6 506.0L912.5 505.0L910.1 504.0L914.3 503.0L916.4 502.0L922.2 501.0L926.9 500.0L921.8 499.0L923.2 498.0L927.6 497.0L934.4 496.0L930.7 495.0L943.8 494.0L941.3 493.0L942.9 492.0L943.1 491.0L947.6 490.0L946.3 489.0L954.0 488.0L954.9 487.0L959.1 486.0L962.7 485.0L960.4 484.0L967.3 483.0L972.2 482.0L969.9 481.0L975.9 480.0L976.5 479.0L982.5 478.0L986.6 477.0L985.6 476.0L987.7 475.0L989.6 474.0L997.5 473.0L1000.5 472.0L1005.3 471.0L1002.3 470.0L1003.8 469.0L1009.2 468.0L1007.3 467.0L1010.3 466.0L1015.5 465.0L1016.0 464.0L1021.2 463.0L1021.8 462.0L1030.3 461.0L1033.0 460.0L1031.3 459.0L1032.7 458.0L1031.9 457.0L1039.2 456.0L1036.2 455.0L1039.7 454.0L1044.7 453.0L1047.0 452.0L1048.5 451.0L1054.2 450.0L1054.5 449.0L1054.9 448.0L1060.7 447.0L1058.4 446.0L1063.7 445.0L1064.9 444.0L1069.4 443.0L1068.8 442.0L1076.4 441.0L1080.2 440.0L1082.9 439.0L1078.6 438.0L1078.3 437.0L1088.4 436.0L1089.7 435.0L1089.9 434.0L1097.8 433.0L1092.2 432.0L1104.0 431.0L1099.3 430.0L1098.5 429.0L1108.7 428.0L1109.6 427.0L1112.9 426.0L1108.5 425.0L1112.1 424.0L1115.3 423.0L1121.7 422.0L1126.7 421.0L1132.9 420.0L1131.1 419.0L1133.8 418.0L1136.9 417.0L1138.2 416.0L1150.0 415.0L1144.4 414.0L1144.1 413.0L1158.3 412.0L1148.2 411.0L1153.9 410.0L1161.3 409.0L1157.9 408.0L1164.3 407.0L1166.5 406.0L1170.9 405.0L1169.4 404.0L1174.9 403.0L1186.1 402.0L1183.2 401.0L1185.6 400.0L1185.4 399.0L1191.1 398.0L1193.8 397.0L1189.2 396.0L1200.3 395.0L1199.3 394.0L1194.7 393.0L1209.2 392.0L1209.3 391.0L1219.3 390.0L1209.9 389.0L1214.7 388.0L1219.4 387.0L1231.2 386.0L1220.7 385.0L1224.2 384.0L1226.4 383.0L1231.6 382.0L1233.9 381.0L1238.7 380.0L1242.1 379.0L1239.5 378.0L1250.9 377.0L1249.0 376.0L1253.2 375.0L1253.4 374.0L1250.1 373.0L1263.1 372.0L1272.2 371.0L1271.6 370.0L1269.1 369.0L1270.4 368.0L1277.1 367.0L1281.9 366.0L1273.1 365.0L1288.2 364.0L1295.7 363.0L1286.8 362.0L1285.6 361.0L1297.2 360.0L1290.2 359.0L1301.9 358.0L1302.6 357.0L1311.5 356.0L1315.0 355.0L1315.3 354.0L1321.8 353.0L1310.7 352.0L1323.7 351.0L1325.3 350.0L1323.7 349.0L1330.8 348.0L1343.9 347.0L1341.4 346.0L1331.7 345.0L1336.1 344.0L1342.4 343.0L1336.8 342.0L1344.1 341.0L1347.7 340.0L1365.5 339.0L1365.6 338.0L1371.6 337.0L1362.9 336.0L1364.7 335.0L1367.4 334.0L1373.1 333.0L1380.0 332.0L1388.0 331.0L1390.9 330.0L1387.3 329.0L1392.9 328.0L1389.1 327.0L1403.8 326.0L1386.0 325.0L1388.6 324.0L1401.6 323.0L1418.4 322.0L1403.5 321.0L1418.4 320.0L1419.5 319.0L1409.5 318.0L1427.7 317.0L1418.2 316.0L1418.0 315.0L1429.5 314.0L1425.0 313.0L1436.9 312.0L1436.9 311.0L1446.3 310.0L1446.7 309.0L1459.1 308.0L1453.8 307.0L1458.5 306.0L1454.5 305.0L1459.8 304.0L1466.3 303.0L1475.2 302.0L1471.1 301.0L1488.0 300.0L1487.8 299.0L1493.8 298.0L1500.4 297.0L1495.5 296.0L1500.9 295.0L1491.0 294.0L1513.7 293.0L1510.2 292.0L1497.1 291.0L1508.3 290.0L1499.2 289.0L1524.2 288.0L1513.0 287.0L1514.4 286.0L1533.3 285.0L1521.3 284.0L1532.5 283.0L1540.2 282.0L1541.3 281.0L1550.2 280.0L1528.8 279.0L1558.6 278.0L1539.7 277.0L1554.4 276.0L1563.3 275.0L1567.8 274.0L1533.7 273.0L1573.9 272.0L1578.0 271.0L1572.3 270.0L1591.0 269.0L1568.3 268.0L1573.0 267.0L1575.2 266.0L1586.2 265.0L1593.1 264.0L1579.4 263.0L1592.8 262.0L1585.0 261.0L1596.3 260.0L1595.9 259.0L1615.7 258.0L1618.5 257.0L1618.2 256.0L1627.9 255.0L1613.4 254.0L1616.0 253.0L1625.6 252.0L1625.5 251.0L1640.8 250.0L1625.3 249.0L1620.1 248.0L1640.2 247.0L1639.1 246.0L1649.9 245.0L1638.6 244.0L1653.8 243.0L1670.2 242.0L1677.6 241.0L1649.1 240.0L1665.5 239.0L1671.4 238.0L1694.0 237.0L1677.5 236.0L1689.2 235.0L1679.0 234.0L1695.9 233.0L1709.3 232.0L1692.4 231.0L1728.7 230.0L1702.7 229.0L1699.2 228.0L1712.3 227.0L1708.1 226.0L1715.6 225.0L1716.3 224.0L1715.0 223.0L1727.9 222.0L1722.0 221.0L1730.8 220.0L1737.6 219.0L1739.1 218.0L1742.5 217.0L1726.0 216.3L1752.0 215.7"/>
<path stroke="#ffff00" d="M381.1 1340.0L381.1 1337.0L381.1 1334.0L381.1 1331.0L381.2 1328.0L381.2 1325.0L381.2 1322.0L381.2 1319.0L381.2 1316.0L381.3 1313.0L381.3 1310.0L381.3 1307.0L381.3 1304.0L381.3 1301.0L381.4 1298.0L381.4 1295.0L381.4 1292.0L381.4 1289.0L381.4 1286.0L381.5 1283.0L381.5 1280.0L381.5 1277.0L381.5 1274.0L381.6 1271.0L381.6 1268.0L381.6 1265.0L381.6 1262.0L381.6 1259.0L381.7 1256.0L381.7 1253.0L381.7 1250.0L381.7 1247.0L381.7 1244.0L381.8 1241.0L381.8 1238.0L381.8 1235.0L381.8 1232.0L381.8 1229.0L381.9 1226.0L381.9 1223.0L381.9 1220.0L381.9 1217.0L382.0 1214.0L382.0 1211.0L382.0 1208.0L382.0 1205.0L382.0 1202.0L382.1 1199.0L382.1 1196.0L382.1 1193.0L382.1 1190.0L382.1 1187.0L382.2 1184.0L382.2 1181.0L382.2 1178.0L382.2 1175.0L382.2 1172.0L382.3 1169.0L382.3 1166.0L382.3 1163.0L382.3 1160.0L382.3 1157.0L382.3 1154.0L382.4 1151.0L382.4 1148.0L382.4 1145.0L382.4 1142.0L382.4 1139.0L382.4 1136.0L382.4 1133.0L382.5 1130.0L382.5 1127.0L382.5 1124.0L382.5 1121.0L382.5 1118.0L382.5 1115.0L382.5 1112.0L382.6 1109.0L382.6 1106.0L382.6 1103.0L382.6 1100.0L382.6 1097.0L382.6 1094.0L382.7 1091.0L382.7 1088.0L382.7 1085.0L382.7 1082.0L382.7 1079.0L382.7 1076.0L382.8 1073.0L382.8 1070.0L382.8 1067.0L382.8 1064.0L382.8 1061.0L382.8 1058.0L382.9 1055.0L382.9 1052.0L382.9 1049.0L382.9 1046.0L382.9 1043.0L382.9 1040.0L383.0 1037.0L383.0 1034.0L383.0 1031.0L383.0 1028.0L383.0 1025.0L383.0 1022.0L383.1 1019.0L383.1 1016.0L383.1 1013.0L383.1 1010.0L383.1 1007.0L383.1 1004.0L383.2 1001.0L383.0 998.0L383.2 995.0L383.3 992.0L383.5 989.0L383.2 986.0L383.4 983.0L383.5 980.0L383.4 977.0L383.4 974.0L383.4 971.0L383.6 968.0L383.2 965.0L383.4 962.0L383.4 959.0L383.7 956.0L383.5 953.0L383.9 950.0L383.9 947.0L383.6 944.0L383.8 941.0L384.0 938.0L384.2 935.0L384.0 932.0L384.3 929.0L384.5 926.0L384.6 923.0L384.9 920.0L384.9 917.0L385.3 914.0L385.2 911.0L385.4 908.0L386.0 905.0L385.9 902.0L386.1 899.0L386.6 896.0L387.0 893.0L387.3 890.0L387.9 887.0L387.9 884.0L388.4 881.0L388.7 878.0L389.3 875.0L390.0 872.0L390.3 869.0L390.9 866.0L391.7 863.0L391.9 860.0L392.7 857.0L393.5 854.0L394.0 851.0L394.6 848.0L395.4 845.0L396.7 842.0L397.5 839.0L398.4 836.0L399.2 833.0L400.4 830.0L400.7 829.0L401.3 828.0L401.7 827.0L402.0 826.0L402.0 825.0L402.6 824.0L403.0 823.0L403.3 822.0L403.9 821.0L404.2 820.0L404.8 819.0L404.9 818.0L405.6 817.0L406.3 816.0L406.8 815.0L407.0 814.0L407.3 813.0L407.8 812.0L408.3 811.0L408.9 810.0L409.3 809.0L410.3 808.0L410.4 807.0L410.8 806.0L411.8 805.0L412.1 804.0L413.0 803.0L413.4 802.0L413.6 801.0L414.7 800.0L415.2 799.0L415.7 798.0L416.1 797.0L417.0 796.0L417.5 795.0L418.4 794.0L418.7 793.0L420.0 792.0L420.3 791.0L420.9 790.0L421.4 789.0L422.4 788.0L423.2 787.0L423.9 786.0L425.0 785.0L425.3 784.0L425.9 783.0L426.6 782.0L427.5 781.0L428.4 780.0L429.2 779.0L430.6 778.0L430.9 777.0L431.6 776.0L432.7 775.0L433.3 774.0L434.5 773.0L435.4 772.0L436.2 771.0L437.4 770.0L437.8 769.0L438.8 768.0L440.3 767.0L441.2 766.0L441.9 765.0L442.9 764.0L443.8 763.0L444.6 762.0L445.5 761.0L446.4 760.0L447.2 759.0L448.5 758.0L449.1 757.0L450.6 756.0L451.9 755.0L452.7 754.0L453.1 753.0L454.6 752.0L455.1 751.0L456.7 750.0L457.8 749.0L458.8 748.0L460.1 747.0L461.2 746.0L461.1 745.0L463.0 744.0L464.2 743.0L465.9 742.0L466.3 741.0L468.1 740.0L468.7 739.0L470.0 738.0L470.7 737.0L472.5 736.0L473.7 735.0L474.4 734.0L476.4 733.0L477.0 732.0L478.1 731.0L480.1 730.0L480.7 729.0L481.7 728.0L483.6 727.0L484.2 726.0L486.0 725.0L487.3 724.0L488.8 723.0L490.3 722.0L491.1 721.0L492.3 720.0L494.3 719.0L495.4 718.0L496.2 717.0L498.7 716.0L499.4 715.0L501.3 714.0L502.0 713.0L503.8 712.0L505.5 711.0L506.1 710.0L507.6 709.0L509.3 708.0L510.8 707.0L512.6 706.0L513.5 705.0L514.5 704.0L516.2 703.0L518.4 702.0L520.0 701.0L521.4 700.0L522.8 699.0L524.3 698.0L526.1 697.0L527.6 696.0L528.5 695.0L530.1 694.0L532.7 693.0L534.4 692.0L535.4 691.0L536.2 690.0L538.8 689.0L539.4 688.0L541.4 687.0L542.5 686.0L544.5 685.0L546.9 684.0L548.8 683.0L550.3 682.0L552.1 681.0L553.6 680.0L554.8 679.0L558.4 678.0L558.0 677.0L559.5 676.0L562.4 675.0L564.2 674.0L566.2 673.0L568.3 672.0L568.5 671.0L570.3 670.0L572.9 669.0L574.0 668.0L576.0 667.0L578.2 666.0L580.1 665.0L582.7 664.0L584.2 663.0L585.3 662.0L589.5 661.0L589.7 660.0L591.1 659.0L594.9 658.0L596.7 657.0L598.2 656.0L600.0 655.0L602.3 654.0L605.1 653.0L606.4 652.0L611.5 651.0L611.6 650.0L612.2 649.0L616.0 648.0L617.8 647.0L620.4 646.0L621.4 645.0L625.0 644.0L626.7 643.0L627.9 642.0L629.1 641.0L629.7 640.0L634.2 639.0L636.8 638.0L636.9 637.0L638.6 636.0L639.3 635.0L643.7 634.0L644.8 633.0L647.5 632.0L649.6 631.0L652.0 630.0L653.1 629.0L655.3 628.0L656.2 627.0L659.4 626.0L662.3 625.0L663.8 624.0L665.7 623.0L665.8 622.0L668.5 621.0L671.1 620.0L672.1 619.0L676.5 618.0L679.0 617.0L678.6 616.0L680.0 615.0L683.1 614.0L683.5 613.0L689.3 612.0L689.6 611.0L692.4 610.0L693.4 609.0L695.5 608.0L698.7 607.0L700.6 606.0L702.5 605.0L705.0 604.0L706.6 603.0L707.6 602.0L708.3 601.0L711.5 600.0L715.1 599.0L718.5 598.0L717.1 597.0L722.5 596.0L725.1 595.0L727.7 594.0L730.0 593.0L733.7 592.0L732.5 591.0L737.9 590.0L736.0 589.0L740.6 588.0L742.0 587.0L743.2 586.0L749.2 585.0L751.7 584.0L750.1 583.0L754.3 582.0L759.1 581.0L758.6 580.0L762.8 579.0L767.7 578.0L764.6 577.0L770.0 576.0L769.9 575.0L775.5 574.0L776.7 573.0L778.3 572.0L782.2 571.0L782.7 570.0L786.3 569.0L790.7 568.0L794.5 567.0L793.7 566.0L797.2 565.0L798.4 564.0L799.8 563.0L805.0 562.0L808.2 561.0L808.9 560.0L811.8 559.0L812.6 558.0L814.3 557.0L814.7 556.0L819.2 555.0L822.3 554.0L824.1 553.0L825.9 552.0L830.1 551.0L832.3 550.0L832.1 549.0L838.8 548.0L839.6 547.0L841.8 546.0L845.3 545.0L844.9 544.0L848.6 543.0L848.4 542.0L852.3 541.0L856.7 540.0L856.6 539.0L860.2 538.0L862.0 537.0L864.5 536.0L866.8 535.0L871.7 534.0L867.2 533.0L876.6 532.0L874.9 531.0L877.2 530.0L881.3 529.0L885.7 528.0L889.8 527.0L888.8 526.0L892.6 525.0L893.0 524.0L891.8 523.0L897.4 522.0L902.0 521.0L903.1 520.0L904.0 519.0L904.0 518.0L909.3 517.0L916.8 516.0L917.4 515.0L921.3 514.0L919.9 513.0L925.8 512.0L923.7 511.0L923.8 510.0L931.8 509.0L934.3 508.0L937.6 507.0L936.7 506.0L936.3 505.0L942.9 504.0L948.9 503.0L949.0 502.0L949.8 501.0L952.5 500.0L957.1 499.0L959.6 498.0L962.3 497.0L961.8 496.0L966.9 495.0L974.2 494.0L966.4 493.0L979.4 492.0L977.1 491.0L978.9 490.0L980.1 489.0L985.8 488.0L990.3 487.0L988.8 486.0L992.4 485.0L994.1 484.0L997.8 483.0L995.0 482.0L1004.0 481.0L1006.5 480.0L1007.8 479.0L1015.5 478.0L1015.0 477.0L1017.5 476.0L1013.7 475.0L1020.7 474.0L1017.5 473.0L1027.2 472.0L1027.2 471.0L1027.7 470.0L1029.0 469.0L1031.0 468.0L1038.7 467.0L1039.4 466.0L1052.2 465.0L1050.0 464.0L1051.0 463.0L1058.6 462.0L1054.2 461.0L1057.7 460.0L1059.2 459.0L1065.5 458.0L1060.4 457.0L1070.2 456.0L1071.7 455.0L1073.0 454.0L1075.2 453.0L1072.3 452.0L1080.9 451.0L1077.5 450.0L1089.4 449.0L1090.3 448.0L1096.4 447.0L1092.9 446.0L1097.7 445.0L1097.1 444.0L1102.3 443.0L1108.5 442.0L1111.4 441.0L1117.4 440.0L1118.3 439.0L1122.6 438.0L1119.0 437.0L1122.5 436.0L1131.3 435.0L1119.5 434.0L1128.7 433.0L1133.4 432.0L1140.6 431.0L1133.8 430.0L1142.6 429.0L1142.6 428.0L1149.4 427.0L1144.3 426.0L1147.2 425.0L1151.1 424.0L1152.0 423.0L1156.3 422.0L1162.8 421.0L1162.5 420.0L1168.2 419.0L1164.4 418.0L1170.3 417.0L1176.5 416.0L1178.4 415.0L1181.6 414.0L1178.4 413.0L1182.2 412.0L1189.6 411.0L1189.3 410.0L1184.0 409.0L1192.9 408.0L1205.7 407.0L1203.5 406.0L1211.2 405.0L1211.5 404.0L1210.2 403.0L1214.2 402.0L1224.2 401.0L1212.3 400.0L1224.9 399.0L1221.6 398.0L1222.1 397.0L1230.0 396.0L1236.8 395.0L1235.0 394.0L1238.3 393.0L1255.6 392.0L1239.2 391.0L1238.9 390.0L1260.0 389.0L1257.4 388.0L1260.2 387.0L1258.4 386.0L1267.8 385.0L1248.0 384.0L1274.4 383.0L1271.8 382.0L1276.7 381.0L1272.2 380.0L1283.4 379.0L1289.7 378.0L1287.4 377.0L1294.7 376.0L1288.7 375.0L1300.0 374.0L1304.7 373.0L1292.8 372.0L1308.9 371.0L1300.2 370.0L1314.0 369.0L1312.9 368.0L1319.1 367.0L1318.8 366.0L1324.6 365.0L1335.3 364.0L1332.2 363.0L1322.1 362.0L1343.3 361.0L1341.1 360.0L1333.4 359.0L1337.2 358.0L1331.8 357.0L1344.6 356.0L1350.8 355.0L1348.1 354.0L1361.0 353.0L1344.6 352.0L1349.7 351.0L1363.9 350.0L1370.2 349.0L1369.5 348.0L1373.2 347.0L1365.8 346.0L1365.3 345.0L1371.0 344.0L1381.2 343.0L1383.4 342.0L1369.8 341.0L1386.3 340.0L1399.9 339.0L1394.5 338.0L1392.0 337.0L1400.4 336.0L1402.9 335.0L1413.9 334.0L1418.2 333.0L1406.3 332.0L1421.7 331.0L1404.2 330.0L1429.4 329.0L1418.1 328.0L1420.2 327.0L1427.5 326.0L1424.0 325.0L1438.8 324.0L1448.9 323.0L1442.3 322.0L1444.6 321.0L1445.8 320.0L1443.7 319.0L1448.9 318.0L1440.0 317.0L1450.7 316.0L1449.7 315.0L1471.0 314.0L1473.0 313.0L1465.8 312.0L1470.2 311.0L1485.0 310.0L1477.7 309.0L1489.0 308.0L1474.3 307.0L1488.8 306.0L1490.0 305.0L1499.3 304.0L1506.4 303.0L1486.4 302.0L1513.8 301.0L1514.0 300.0L1518.4 299.0L1514.0 298.0L1519.9 297.0L1517.8 296.0L1531.2 295.0L1525.0 294.0L1518.7 293.0L1535.3 292.0L1546.7 291.0L1534.3 290.0L1535.3 289.0L1550.0 288.0L1553.1 287.0L1552.3 286.0L1557.7 285.0L1576.5 284.0L1566.7 283.0L1569.6 282.0L1557.0 281.0L1583.2 280.0L1576.5 279.0L1582.4 278.0L1571.4 277.0L1583.2 276.0L1591.7 275.0L1593.2 274.0L1606.0 273.0L1600.7 272.0L1605.5 271.0L1608.9 270.0L1606.3 269.0L1603.6 268.0L1606.2 267.0L1605.2 266.0L1611.8 265.0L1612.7 264.0L1619.7 263.0L1608.5 262.0L1621.8 261.0L1626.5 260.0L1638.7 259.0L1626.5 258.0L1631.3 257.0L1631.0 256.0L1635.4 255.0L1645.1 254.0L1657.7 253.0L1641.1 252.0L1645.0 251.0L1651.2 250.0L1676.7 249.0L1664.8 248.0L1676.8 247.0L1658.7 246.0L1676.0 245.0L1685.8 244.0L1683.7 243.0L1684.0 242.0L1696.1 241.0L1710.4 240.0L1697.5 239.0L1691.3 238.0L1704.2 237.0L1704.6 236.0L1725.5 235.0L1705.5 234.0L1701.0 233.0L1726.4 232.0L1727.8 231.0L1727.0 230.0L1721.6 229.0L1742.2 228.0L1740.3 227.0L1738.3 226.0L1747.6 225.0L1745.2 224.0L1754.3 223.0L1751.5 222.0L1753.3 221.0L1762.9 220.0L1764.3 219.0L1769.1 218.0L1773.9 217.0L1771.0 216.3L1783.0 215.7"/>
<path stroke="#000080" d="M381.9 1340.0L381.9 1337.0L381.9 1334.0L381.9 1331.0L382.0 1328.0L382.0 1325.0L382.0 1322.0L382.1 1319.0L382.1 1316.0L382.1 1313.0L382.1 1310.0L382.2 1307.0L382.2 1304.0L382.2 1301.0L382.3 1298.0L382.3 1295.0L382.3 1292.0L382.3 1289.0L382.4 1286.0L382.4 1283.0L382.4 1280.0L382.4 1277.0L382.5 1274.0L382.5 1271.0L382.5 1268.0L382.6 1265.0L382.6 1262.0L382.6 1259.0L382.6 1256.0L382.7 1253.0L382.7 1250.0L382.7 1247.0L382.7 1244.0L382.8 1241.0L382.8 1238.0L382.8 1235.0L382.8 1232.0L382.8 1229.0L382.9 1226.0L382.9 1223.0L382.9 1220.0L382.9 1217.0L383.0 1214.0L383.0 1211.0L383.0 1208.0L383.0 1205.0L383.0 1202.0L383.1 1199.0L383.1 1196.0L383.1 1193.0L383.1 1190.0L383.1 1187.0L383.2 1184.0L383.2 1181.0L383.2 1178.0L383.2 1175.0L383.2 1172.0L383.3 1169.0L383.3 1166.0L383.3 1163.0L383.3 1160.0L383.3 1157.0L383.4 1154.0L383.4 1151.0L383.4 1148.0L383.4 1145.0L383.4 1142.0L383.5 1139.0L383.5 1136.0L383.5 1133.0L383.5 1130.0L383.5 1127.0L383.6 1124.0L383.6 1121.0L383.6 1118.0L383.6 1115.0L383.6 1112.0L383.6 1109.0L383.7 1106.0L383.7 1103.0L383.7 1100.0L383.7 1097.0L383.7 1094.0L383.7 1091.0L383.8 1088.0L383.8 1085.0L383.8 1082.0L383.8 1079.0L383.8 1076.0L383.8 1073.0L383.8 1070.0L383.9 1067.0L383.9 1064.0L383.9 1061.0L383.9 1058.0L383.9 1055.0L383.9 1052.0L384.0 1049.0L384.0 1046.0L384.0 1043.0L384.0 1040.0L384.0 1037.0L384.0 1034.0L384.0 1031.0L384.1 1028.0L384.1 1025.0L384.1 1022.0L384.1 1019.0L384.1 1016.0L384.1 1013.0L384.1 1010.0L384.2 1007.0L384.2 1004.0L384.2 1001.0L384.3 998.0L384.1 995.0L384.0 992.0L384.4 989.0L384.2 986.0L384.3 983.0L384.6 980.0L383.8 977.0L384.2 974.0L384.3 971.0L384.2 968.0L384.3 965.0L384.3 962.0L384.4 959.0L384.4 956.0L384.5 953.0L384.6 950.0L384.7 947.0L384.6 944.0L384.4 941.0L384.7 938.0L385.0 935.0L385.0 932.0L385.0 929.0L385.3 926.0L385.2 923.0L385.3 920.0L385.6 917.0L386.0 914.0L386.2 911.0L386.0 908.0L386.2 905.0L386.8 902.0L386.8 899.0L387.5 896.0L387.4 893.0L387.8 890.0L388.3 887.0L388.9 884.0L388.9 881.0L389.4 878.0L390.2 875.0L390.2 872.0L391.5 869.0L391.6 866.0L392.3 863.0L392.7 860.0L393.6 857.0L394.3 854.0L395.3 851.0L395.8 848.0L396.8 845.0L397.8 842.0L398.7 839.0L400.0 836.0L401.0 833.0L401.2 832.0L401.7 831.0L402.0 830.0L402.8 829.0L402.9 828.0L403.3 827.0L404.0 826.0L404.1 825.0L404.6 824.0L405.2 823.0L405.9 822.0L406.3 821.0L406.5 820.0L407.2 819.0L407.6 818.0L408.1 817.0L408.6 816.0L409.5 815.0L409.7 814.0L410.4 813.0L410.5 812.0L411.3 811.0L411.6 810.0L412.5 809.0L413.1 808.0L413.4 807.0L414.3 806.0L414.7 805.0L415.6 804.0L416.2 803.0L417.0 802.0L417.6 801.0L418.5 800.0L418.8 799.0L419.6 798.0L420.2 797.0L421.2 796.0L421.5 795.0L422.5 794.0L423.0 793.0L423.8 792.0L424.7 791.0L425.4 790.0L426.1 789.0L427.4 788.0L428.0 787.0L428.7 786.0L429.6 785.0L430.4 784.0L431.1 783.0L432.0 782.0L433.1 781.0L434.2 780.0L434.6 779.0L435.6 778.0L436.4 777.0L437.6 776.0L438.4 775.0L438.9 774.0L440.7 773.0L441.1 772.0L442.2 771.0L442.9 770.0L444.1 769.0L444.9 768.0L446.3 767.0L447.3 766.0L447.9 765.0L448.8 764.0L450.3 763.0L451.0 762.0L452.0 761.0L453.5 760.0L454.1 759.0L455.7 758.0L456.2 757.0L457.3 756.0L459.0 755.0L459.5 754.0L460.8 753.0L462.3 752.0L463.0 751.0L464.3 750.0L464.8 749.0L466.5 748.0L467.9 747.0L469.0 746.0L469.8 745.0L471.0 744.0L472.5 743.0L473.8 742.0L474.8 741.0L476.1 740.0L477.3 739.0L478.6 738.0L480.4 737.0L481.1 736.0L482.5 735.0L484.1 734.0L484.9 733.0L486.1 732.0L487.4 731.0L488.9 730.0L490.7 729.0L491.2 728.0L492.9 727.0L494.8 726.0L495.8 725.0L497.2 724.0L499.1 723.0L499.8 722.0L501.3 721.0L503.0 720.0L505.2 719.0L506.8 718.0L507.6 717.0L508.9 716.0L511.0 715.0L512.3 714.0L513.6 713.0L514.9 712.0L516.9 711.0L518.3 710.0L519.5 709.0L522.1 708.0L522.7 707.0L524.2 706.0L525.7 705.0L527.9 704.0L529.3 703.0L530.4 702.0L531.8 701.0L535.1 700.0L535.2 699.0L537.9 698.0L538.9 697.0L540.3 696.0L542.4 695.0L543.3 694.0L546.1 693.0L547.7 692.0L549.3 691.0L550.5 690.0L553.1 689.0L554.6 688.0L557.0 687.0L558.8 686.0L559.3 685.0L560.3 684.0L563.0 683.0L565.2 682.0L566.6 681.0L568.2 680.0L569.9 679.0L571.5 678.0L574.9 677.0L576.2 676.0L576.5 675.0L579.9 674.0L580.1 673.0L582.1 672.0L584.5 671.0L585.5 670.0L589.2 669.0L590.4 668.0L592.7 667.0L594.5 666.0L597.3 665.0L597.8 664.0L600.5 663.0L601.6 662.0L604.8 661.0L606.6 660.0L607.8 659.0L610.8 658.0L611.0 657.0L613.5 656.0L616.0 655.0L618.4 654.0L618.1 653.0L620.6 652.0L622.8 651.0L626.8 650.0L627.4 649.0L628.2 648.0L631.1 647.0L633.7 646.0L634.1 645.0L638.6 644.0L640.1 643.0L642.4 642.0L645.1 641.0L644.1 640.0L647.4 639.0L650.0 638.0L651.8 637.0L653.3 636.0L657.4 635.0L657.9 634.0L661.0 633.0L665.5 632.0L663.8 631.0L668.3 630.0L667.9 629.0L669.5 628.0L671.6 627.0L674.5 626.0L677.7 625.0L680.0 624.0L682.8 623.0L684.2 622.0L685.0 621.0L686.7 620.0L690.2 619.0L692.2 618.0L694.2 617.0L698.5 616.0L700.5 615.0L699.8 614.0L704.5 613.0L704.5 612.0L708.8 611.0L709.6 610.0L711.4 609.0L714.8 608.0L718.1 607.0L717.9 606.0L722.8 605.0L722.6 604.0L724.7 603.0L726.7 602.0L730.8 601.0L731.6 600.0L735.0 599.0L739.0 598.0L738.8 597.0L744.4 596.0L742.5 595.0L744.4 594.0L747.2 593.0L751.7 592.0L754.1 591.0L754.7 590.0L755.3 589.0L757.7 588.0L763.0 587.0L761.8 586.0L769.5 585.0L770.5 584.0L773.4 583.0L773.6 582.0L776.0 581.0L779.1 580.0L782.1 579.0L783.3 578.0L787.5 577.0L786.5 576.0L789.9 575.0L795.1 574.0L795.8 573.0L795.2 572.0L802.6 571.0L804.2 570.0L805.1 569.0L805.6 568.0L807.7 567.0L812.3 566.0L815.2 565.0L813.9 564.0L820.1 563.0L820.8 562.0L826.0 561.0L830.3 560.0L825.8 559.0L831.9 558.0L835.6 557.0L833.0 556.0L839.5 555.0L839.6 554.0L846.2 553.0L844.5 552.0L845.8 551.0L848.4 550.0L856.5 549.0L852.5 548.0L854.9 547.0L865.0 546.0L867.5 545.0L865.7 544.0L870.0 543.0L865.9 542.0L876.2 541.0L877.5 540.0L876.6 539.0L881.0 538.0L884.1 537.0L889.3 536.0L891.2 535.0L891.6 534.0L894.5 533.0L896.8 532.0L902.0 531.0L904.7 530.0L905.2 529.0L909.6 528.0L913.1 527.0L911.3 526.0L909.9 525.0L912.5 524.0L923.0 523.0L919.2 522.0L920.3 521.0L926.8 520.0L927.9 519.0L929.0 518.0L934.2 517.0L938.0 516.0L936.9 515.0L946.2 514.0L943.6 513.0L947.1 512.0L957.4 511.0L950.6 510.0L954.2 509.0L956.6 508.0L967.1 507.0L966.0 506.0L968.6 505.0L978.3 504.0L973.1 503.0L978.9 502.0L978.4 501.0L982.4 500.0L979.7 499.0L986.8 498.0L991.1 497.0L992.2 496.0L995.1 495.0L998.5 494.0L995.0 493.0L1006.9 492.0L1005.7 491.0L1003.5 490.0L1005.1 489.0L1011.8 488.0L1015.5 487.0L1015.6 486.0L1021.1 485.0L1025.9 484.0L1030.9 483.0L1025.9 482.0L1034.0 481.0L1033.2 480.0L1038.8 479.0L1036.6 478.0L1035.8 477.0L1050.9 476.0L1051.8 475.0L1049.9 474.0L1053.5 473.0L1057.0 472.0L1054.8 471.0L1066.2 470.0L1069.2 469.0L1071.9 468.0L1069.4 467.0L1071.9 466.0L1067.4 465.0L1076.0 464.0L1077.4 463.0L1077.4 462.0L1091.6 461.0L1080.6 460.0L1091.0 459.0L1088.2 458.0L1094.4 457.0L1091.3 456.0L1098.7 455.0L1106.4 454.0L1104.0 453.0L1112.6 452.0L1113.2 451.0L1113.2 450.0L1116.6 449.0L1123.8 448.0L1120.7 447.0L1125.2 446.0L1126.6 445.0L1128.3 444.0L1130.8 443.0L1139.5 442.0L1143.5 441.0L1137.2 440.0L1141.1 439.0L1148.4 438.0L1151.9 437.0L1152.9 436.0L1158.4 435.0L1155.1 434.0L1161.1 433.0L1163.8 432.0L1160.5 431.0L1177.2 430.0L1175.0 429.0L1171.6 428.0L1180.4 427.0L1171.8 426.0L1187.6 425.0L1184.5 424.0L1197.4 423.0L1192.3 422.0L1194.8 421.0L1192.6 420.0L1192.4 419.0L1201.1 418.0L1197.0 417.0L1207.7 416.0L1219.4 415.0L1209.6 414.0L1225.0 413.0L1212.6 412.0L1227.7 411.0L1221.3 410.0L1229.4 409.0L1225.9 408.0L1236.9 407.0L1237.1 406.0L1244.8 405.0L1249.3 404.0L1238.8 403.0L1247.0 402.0L1251.0 401.0L1250.0 400.0L1256.3 399.0L1260.8 398.0L1261.9 397.0L1274.5 396.0L1277.2 395.0L1280.3 394.0L1269.4 393.0L1288.8 392.0L1274.5 391.0L1275.9 390.0L1279.5 389.0L1291.4 388.0L1302.2 387.0L1299.9 386.0L1289.4 385.0L1305.3 384.0L1308.4 383.0L1302.5 382.0L1312.8 381.0L1316.4 380.0L1324.0 379.0L1329.2 378.0L1314.9 377.0L1326.3 376.0L1317.2 375.0L1323.6 374.0L1333.7 373.0L1333.1 372.0L1346.2 371.0L1347.5 370.0L1343.4 369.0L1350.4 368.0L1347.0 367.0L1354.1 366.0L1354.9 365.0L1353.8 364.0L1366.0 363.0L1358.5 362.0L1365.4 361.0L1379.1 360.0L1378.8 359.0L1386.6 358.0L1371.2 357.0L1382.6 356.0L1383.6 355.0L1395.0 354.0L1387.6 353.0L1397.8 352.0L1397.5 351.0L1392.8 350.0L1408.2 349.0L1405.4 348.0L1402.5 347.0L1401.6 346.0L1424.9 345.0L1427.3 344.0L1414.8 343.0L1431.4 342.0L1420.6 341.0L1430.5 340.0L1436.1 339.0L1435.7 338.0L1433.5 337.0L1435.9 336.0L1448.7 335.0L1448.2 334.0L1465.1 333.0L1459.5 332.0L1467.5 331.0L1468.6 330.0L1472.7 329.0L1472.7 328.0L1473.6 327.0L1480.1 326.0L1489.0 325.0L1495.9 324.0L1494.3 323.0L1484.0 322.0L1506.1 321.0L1503.3 320.0L1502.4 319.0L1495.7 318.0L1494.1 317.0L1507.0 316.0L1514.7 315.0L1531.9 314.0L1520.6 313.0L1537.7 312.0L1519.7 311.0L1539.2 310.0L1521.7 309.0L1530.8 308.0L1540.2 307.0L1528.0 306.0L1539.6 305.0L1551.7 304.0L1561.1 303.0L1540.5 302.0L1560.6 301.0L1560.6 300.0L1549.8 299.0L1566.0 298.0L1569.4 297.0L1561.2 296.0L1573.4 295.0L1575.6 294.0L1588.1 293.0L1579.6 292.0L1606.7 291.0L1594.9 290.0L1613.2 289.0L1593.3 288.0L1610.3 287.0L1610.6 286.0L1601.3 285.0L1609.0 284.0L1630.3 283.0L1611.0 282.0L1629.0 281.0L1625.5 280.0L1636.9 279.0L1621.5 278.0L1647.8 277.0L1632.3 276.0L1631.3 275.0L1631.1 274.0L1639.0 273.0L1647.2 272.0L1638.5 271.0L1638.0 270.0L1650.5 269.0L1662.5 268.0L1665.6 267.0L1664.5 266.0L1681.5 265.0L1687.2 264.0L1692.2 263.0L1694.3 262.0L1666.9 261.0L1684.6 260.0L1694.3 259.0L1705.4 258.0L1708.1 257.0L1697.8 256.0L1686.4 255.0L1685.3 254.0L1705.0 253.0L1699.5 252.0L1710.5 251.0L1697.4 250.0L1725.4 249.0L1717.5 248.0L1724.3 247.0L1735.8 246.0L1718.1 245.0L1735.4 244.0L1745.0 243.0L1730.7 242.0L1725.8 241.0L1763.1 240.0L1754.4 239.0L1756.6 238.0L1767.2 237.0L1757.7 236.0L1775.1 235.0L1761.3 234.0L1762.1 233.0L1757.9 232.0L1774.4 231.0L1797.0 230.0L1778.4 229.0L1783.9 228.0L1797.6 227.0L1792.7 226.0L1789.9 225.0L1798.2 224.0L1802.4 223.0L1811.4 222.0L1807.2 221.0L1816.5 220.0L1815.1 219.0L1821.4 218.0L1822.8 217.0L1807.0 216.3L1829.0 215.7"/>
</g>
<g id="arrow" shape-rendering="crispEdges">
<line x1="869.7" y1="348.9" x2="1117.9" y2="534.8" stroke="#000" stroke-width="9.7" stroke-linecap="round" stroke-dasharray="39.5 48.7"/>
<polygon points="1163.1,570.5 1132.4,531.7 1118.7,550.4" fill="#000" stroke="#000" stroke-width="9.6" stroke-linejoin="round"/>
</g>
<g id="labels" filter="url(#crisp)">
<text transform="translate(0 113.3) scale(1 1.026)" font-size="84.2" x="220.8 267.6 291.0" y="0">3.0</text>
<text transform="translate(0 425.3) scale(1 1.026)" font-size="84.2" x="220.8 267.6 291.0" y="0">2.5</text>
<text transform="translate(0 737.3) scale(1 1.026)" font-size="84.2" x="220.8 267.6 291.0" y="0">2.0</text>
<text transform="translate(0 1049.3) scale(1 1.026)" font-size="84.2" x="223.8 267.6 291.0" y="0">1.5</text>
<text transform="translate(0 1361.3) scale(1 1.026)" font-size="84.2" x="223.8 267.6 291.0" y="0">1.0</text>
<text transform="translate(0 1445.2) scale(1 1.026)" font-size="84.2" x="320.3 367.1 390.5" y="0">0.0</text>
<text transform="translate(0 1445.2) scale(1 1.026)" font-size="84.2" x="647.3 694.1 717.5" y="0">0.2</text>
<text transform="translate(0 1445.2) scale(1 1.026)" font-size="84.2" x="974.3 1021.1 1044.5" y="0">0.4</text>
<text transform="translate(0 1445.2) scale(1 1.026)" font-size="84.2" x="1301.3 1348.1 1371.5" y="0">0.6</text>
<text transform="translate(0 1445.2) scale(1 1.026)" font-size="84.2" x="1628.3 1675.1 1698.5" y="0">0.8</text>
<text transform="translate(0 1445.2) scale(1 1.026)" font-size="84.2" x="1958.3 2002.1 2025.5" y="0">1.0</text>
<text font-size="85.0" x="1031.3 1057.3 1079.9 1142.2 1164.4 1212.2 1288.3 1314.7" y="1609.3 1609.3 1609.3 1609.3 1609.3 1609.3 1566.7 1566.7">j/A.cm-2</text>
<text font-size="84.8" x="986.6 1033.8 1058.9 1086.2 1137.9 1160.7 1207.5 1254.7 1279.1 1354.3 1377.9 1401.0 1477.4 1499.8 1553.4 1582.6" y="711.9 711.9 711.9 711.9 711.9 711.9 711.9 711.9 711.9 711.9 711.9 711.9 711.9 711.9 670.8 670.8">2 to 20 ml min-1</text>
<text font-size="85.3" transform="rotate(-90)" x="-923.3 -862.7 -815.3 -766.7 -743.9 -720.2 -696.7 -673.1 -650.0" y="119.0 157.1 157.1 157.1 157.1 119.0 119.0 119.0 119.0">Ucell / V</text>
</g>
</svg></body></html>
